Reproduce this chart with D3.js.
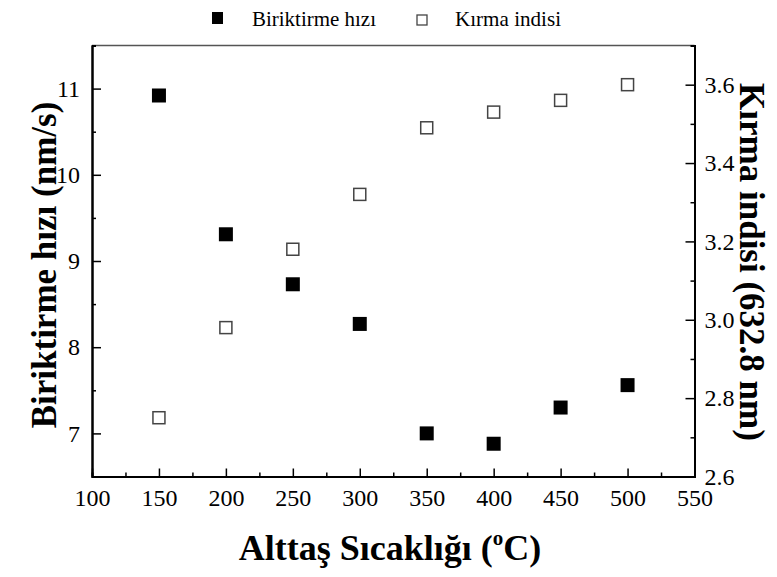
<!DOCTYPE html>
<html>
<head>
<meta charset="utf-8">
<script src="https://cdn.jsdelivr.net/npm/d3@7"></script>
<style>
  body { margin: 0; background: #fff; }
  svg { display: block; }
  svg text { font-family: "Liberation Serif", "Times New Roman", serif; }
  .domain { stroke: #000; stroke-width: 2; }
  .tick line { stroke: #000; stroke-width: 1.5; }
</style>
</head>
<body>
<div class="svg-container"></div>
<script>
// data
const temps = [150, 200, 250, 300, 350, 400, 450, 500];
const rate = [10.92, 9.31, 8.73, 8.27, 7.00, 6.88, 7.30, 7.56];   // Biriktirme hızı (nm/s)
const index = [2.75, 2.98, 3.18, 3.32, 3.49, 3.53, 3.56, 3.60];   // Kırma indisi
const xTicks = [100, 150, 200, 250, 300, 350, 400, 450, 500, 550];
const leftTicks = [7, 8, 9, 10, 11];
const rightTicks = [2.6, 2.8, 3.0, 3.2, 3.4, 3.6];

const w = 777;
const h = 577;
const padL = 92, padR = 694.5, padT = 45.5, padB = 476.5;
const serif = "'Liberation Serif', 'Times New Roman', serif";

const svg = d3.select(".svg-container")
  .append("svg")
  .attr("width", w)
  .attr("height", h);

// SCALES
const xScale = d3.scaleLinear().domain([100, 550]).range([padL, padR]);
const yLeft = d3.scaleLinear().domain([6.5, 11.5]).range([padB, padT]);
const yRight = d3.scaleLinear().domain([2.6, 3.7]).range([padB, padT]);

// top border
svg.append("line")
  .attr("x1", padL).attr("x2", padR)
  .attr("y1", padT).attr("y2", padT)
  .attr("stroke", "#555")
  .attr("stroke-width", 1.5);

// minor ticks
svg.append("g")
  .attr("transform", "translate(0," + padB + ")")
  .call(d3.axisBottom(xScale).tickValues(d3.range(125, 550, 50)).tickSize(-4).tickFormat(""));
svg.append("g")
  .attr("transform", "translate(" + padL + ",0)")
  .call(d3.axisLeft(yLeft).tickValues([7.5, 8.5, 9.5, 10.5]).tickSize(-4).tickFormat(""));
svg.append("g")
  .attr("transform", "translate(" + padR + ",0)")
  .call(d3.axisRight(yRight).tickValues([2.7, 2.9, 3.1, 3.3, 3.5]).tickSize(-4).tickFormat(""));

// AXIS
svg.append("g")
  .attr("id", "x-axis")
  .attr("transform", "translate(0," + padB + ")")
  .call(d3.axisBottom(xScale).tickValues(xTicks).tickSizeInner(-8).tickSizeOuter(0).tickPadding(12));

svg.append("g")
  .attr("id", "y-axis")
  .attr("transform", "translate(" + padL + ",0)")
  .call(d3.axisLeft(yLeft).tickValues(leftTicks).tickFormat(d3.format("d"))
    .tickSizeInner(-9).tickSizeOuter(0).tickPadding(12));

svg.append("g")
  .attr("id", "y-axis-right")
  .attr("transform", "translate(" + padR + ",0)")
  .call(d3.axisRight(yRight).tickValues(rightTicks).tickFormat(d3.format(".1f"))
    .tickSizeInner(-9).tickSizeOuter(0).tickPadding(10));

svg.selectAll(".tick text")
  .style("font-family", serif)
  .style("font-size", "24px")
  .style("fill", "#000");

// MARKERS
const s1 = 14, s2 = 12;
svg.selectAll("rect.rate")
  .data(temps)
  .enter()
  .append("rect")
  .attr("class", "rate")
  .attr("x", d => xScale(d) - s1 / 2)
  .attr("y", (d, i) => yLeft(rate[i]) - s1 / 2)
  .attr("width", s1)
  .attr("height", s1)
  .attr("fill", "#000");

svg.selectAll("rect.index")
  .data(temps)
  .enter()
  .append("rect")
  .attr("class", "index")
  .attr("x", d => xScale(d) - s2 / 2)
  .attr("y", (d, i) => yRight(index[i]) - s2 / 2)
  .attr("width", s2)
  .attr("height", s2)
  .attr("fill", "#fff")
  .attr("stroke", "#444")
  .attr("stroke-width", 1.5);

// LEGEND
svg.append("rect").attr("x", 212).attr("y", 12).attr("width", 11).attr("height", 12).attr("fill", "#000");
svg.append("text").attr("x", 252).attr("y", 26).attr("font-size", 21)
  .attr("textLength", 124).attr("lengthAdjust", "spacingAndGlyphs").text("Biriktirme hızı");
svg.append("rect").attr("x", 417).attr("y", 15).attr("width", 10).attr("height", 10)
  .attr("fill", "#fff").attr("stroke", "#444").attr("stroke-width", 1.3);
svg.append("text").attr("x", 455).attr("y", 26).attr("font-size", 21)
  .attr("textLength", 106).attr("lengthAdjust", "spacingAndGlyphs").text("Kırma indisi");

// TITLES
const xt = svg.append("text")
  .attr("x", 390)
  .attr("y", 560)
  .attr("text-anchor", "middle")
  .attr("font-size", 36)
  .attr("font-weight", "bold");
xt.append("tspan").text("Alttaş Sıcaklığı (");
xt.append("tspan").attr("font-size", 21).attr("dy", -15).text("o");
xt.append("tspan").attr("dy", 15).text("C)");

svg.append("text")
  .attr("transform", "rotate(-90)")
  .attr("x", -265)
  .attr("y", 56)
  .attr("text-anchor", "middle")
  .attr("font-size", 35)
  .attr("font-weight", "bold")
  .text("Biriktirme hızı (nm/s)");

svg.append("text")
  .attr("transform", "rotate(90)")
  .attr("x", 262)
  .attr("y", -740)
  .attr("text-anchor", "middle")
  .attr("font-size", 35)
  .attr("font-weight", "bold")
  .text("Kırma indisi (632.8 nm)");
</script>
</body>
</html>
